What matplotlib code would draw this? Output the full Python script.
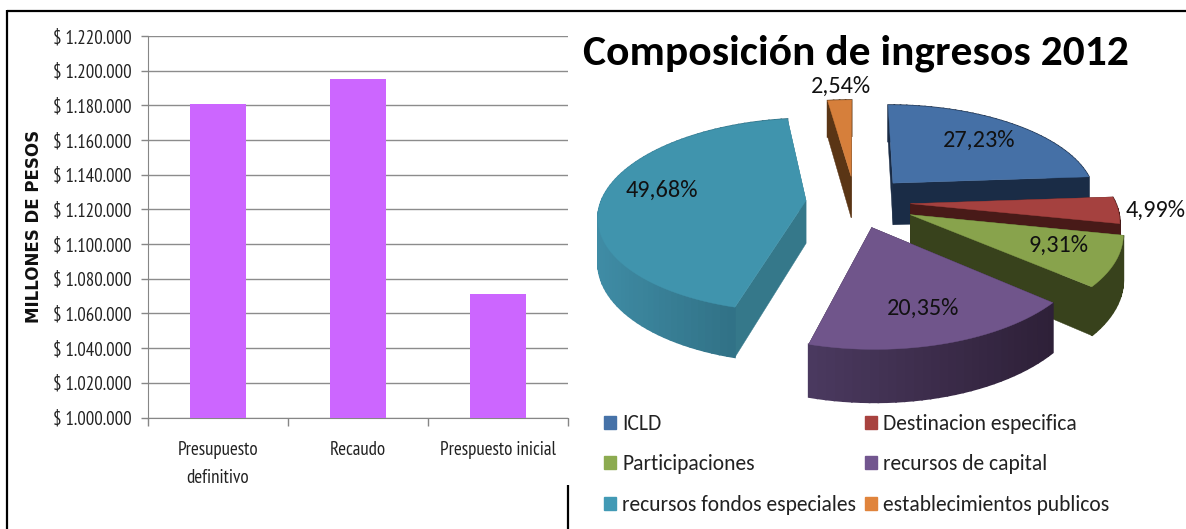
import numpy as np
import matplotlib
matplotlib.use("Agg")
import matplotlib.pyplot as plt
from matplotlib.patches import Patch
from matplotlib.colors import to_rgb
from matplotlib.ticker import FixedLocator

W = 1186
H = 529

narrow = ["PT Sans Narrow", "Lato"]
calibri = ["Carlito", "Lato"]

# bar chart data
bar_names = ["Presupuesto\ndefinitivo", "Recaudo", "Prespuesto inicial"]
bar_values = [1181000, 1195000, 1071500]
y_ticks = [1000000 + 20000 * i for i in range(12)]

# pie data, the percentages do not add up to 100 in the original
pie_names = ["ICLD", "Destinacion especifica", "Participaciones",
             "recursos de capital", "recursos fondos especiales",
             "establecimientos publicos"]
pie_values = [27.23, 4.99, 9.31, 20.35, 49.68, 2.54]
pie_explode = [0.28, 0.27, 0.295, 0.27, 0.24, 0.28]

top_colors = ["#4570a6", "#a5413f", "#88a34c", "#70558b", "#4094ad", "#d67f3b"]
wall_left = ["#1a2c46", "#481a18", "#38421c", "#4b3a60", "#3f8ca5", "#5a3515"]
wall_right = ["#1a2c46", "#481a18", "#38421c", "#2e2038", "#2c687b", "#5a3515"]
side_colors = ["#1a2c46", "#481a18", "#38421c", "#2e2038", "#35788a", "#5a3515"]
legend_colors = ["#4672a8", "#a8423f", "#8cab50", "#72568f", "#429ab5", "#e0843c"]

# label centres in pixels
label_pos = [(979, 140), (1156, 210), (1058, 245), (923, 308), (662, 190), (841, 86)]

# pie projection
cx, cy = 855, 202
rx, ry = 205, 95
persp = 0.15
depth = 43
start = 90


def project(u, v):
    d = 1 + persp * v
    return cx + rx * u / d, cy - ry * v / d, depth / d


fig = plt.figure(figsize=(W / 100, H / 100), dpi=100)

# page sized axes, units are pixels
page = fig.add_axes([0, 0, 1, 1])
page.axis("off")

page.plot([7, W], [10.5, 10.5], color="black", lw=1.6, solid_capstyle="butt")
page.plot([7, 7], [10, H], color="black", lw=1.6, solid_capstyle="butt")
page.plot([568, 568], [485, H], color="black", lw=1.6, solid_capstyle="butt")

# bar chart
ax = fig.add_axes([148 / W, 1 - 417.5 / H, 420 / W, 381.5 / H])
x = np.arange(len(bar_values))
ax.bar(x, bar_values, width=0.4, color="#cc66ff", zorder=3)
ax.set_xlim(-0.5, 2.5)
ax.set_ylim(1000000, 1220000)
ax.set_yticks(y_ticks)
ax.set_yticklabels(["$ " + f"{v:,}".replace(",", ".") for v in y_ticks],
                   family=narrow, fontsize=13.5, color="#222222")
ax.set_xticks(x)
ax.set_xticklabels(bar_names, family=narrow, fontsize=13.7, color="#222222",
                   linespacing=1.68)
ax.xaxis.set_minor_locator(FixedLocator([-0.5, 0.5, 1.5, 2.5]))
ax.tick_params(axis="x", which="major", length=0, pad=17)
ax.tick_params(axis="x", which="minor", length=6, color="#868686", width=1)
ax.tick_params(axis="y", length=5, color="#868686", width=1, pad=7)
ax.grid(axis="y", color="#8c8c8c", lw=1, zorder=1)
ax.set_axisbelow(True)
for s in ["top", "right"]:
    ax.spines[s].set_visible(False)
for s in ["left", "bottom"]:
    ax.spines[s].set_color("#868686")

page.text(34.5, 226, "MILLONES DE PESOS", rotation=90, ha="center", va="center",
          family="DejaVu Sans", fontweight="bold", fontsize=12, color="#111111")

# pie, slices run clockwise from the top
page.text(856, 53, "Composición de ingresos 2012", ha="center", va="center",
          family=calibri, fontweight="bold", fontsize=31.3, color="black")

shares = np.array(pie_values) / sum(pie_values) * 360
ends = start - np.cumsum(shares)
begins = ends + shares

draw_order = [5, 0, 1, 2, 3, 4]
for n, i in enumerate(draw_order):
    z = 2 + n * 0.1
    mid = np.radians((begins[i] + ends[i]) / 2)
    ou, ov = pie_explode[i] * np.cos(mid), pie_explode[i] * np.sin(mid)
    angles = np.radians(np.linspace(begins[i], ends[i], max(int(shares[i] / 2), 3) + 1))
    px, py, pd = project(ou + np.cos(angles), ov + np.sin(angles))
    tx, ty, td = project(ou, ov)

    # radial walls
    for k in [0, -1]:
        page.fill([tx, px[k], px[k], tx], [ty, py[k], py[k] + pd[k], ty + td],
                  color=side_colors[i], lw=0.3, zorder=z)
    # outer wall with shading from left to right
    c0 = np.array(to_rgb(wall_left[i]))
    c1 = np.array(to_rgb(wall_right[i]))
    span = max(px.max() - px.min(), 1)
    for k in range(len(px) - 1):
        t = (px[k] - px.min()) / span
        c = c0 + (c1 - c0) * t
        page.fill([px[k], px[k + 1], px[k + 1], px[k]],
                  [py[k], py[k + 1], py[k + 1] + pd[k + 1], py[k] + pd[k]],
                  color=c, lw=1.2, zorder=z)
    # top face
    page.fill(np.r_[tx, px], np.r_[ty, py], color=top_colors[i], lw=0.3, zorder=z + 0.05)

page.set_xlim(0, W)
page.set_ylim(H, 0)

for v, (lx, ly) in zip(pie_values, label_pos):
    page.text(lx, ly, f"{v:.2f}%".replace(".", ","), ha="center", va="center",
              family=calibri, fontsize=17.5, color="#111111", zorder=5)

# legend fills by column, so reorder to keep the rows of the original
order = [0, 2, 4, 1, 3, 5]
handles = [Patch(color=legend_colors[i], label=pie_names[i]) for i in order]
page.legend(handles=handles, ncol=2, frameon=False, loc="upper left",
            bbox_to_anchor=(604 / W, 1 - 414 / H),
            prop={"family": calibri, "size": 15.5}, handlelength=0.56, handleheight=0.56,
            handletextpad=0.28, columnspacing=0.4, labelspacing=0.95, borderpad=0,
            borderaxespad=0, labelcolor="#222222")

fig.savefig("out.png", dpi=100)
